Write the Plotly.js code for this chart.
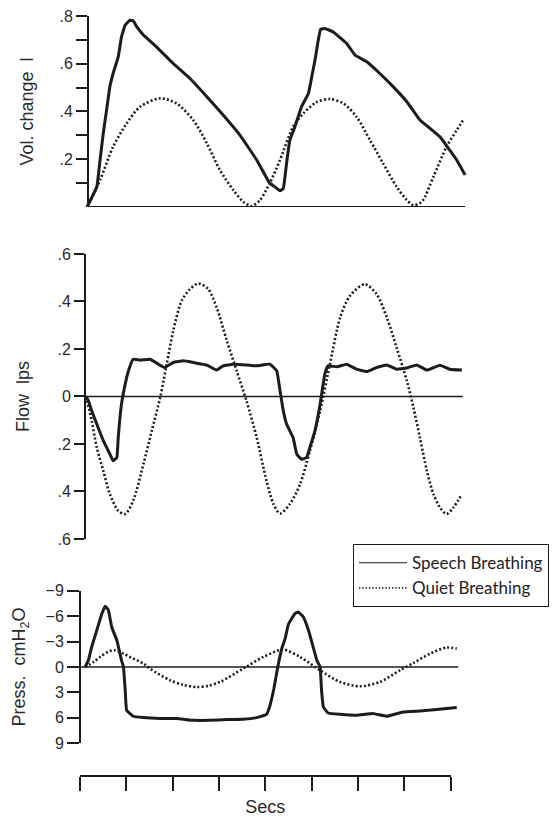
<!DOCTYPE html>
<html>
<head>
<meta charset="utf-8">
<script src="https://cdn.plot.ly/plotly-3.0.1.min.js"></script>
<style>html,body{margin:0;padding:0;background:#fff;}#chart{width:559px;height:817px;}</style>
</head>
<body>
<div id="chart"></div>
<script>
// ---- Panel 1: volume change (litres) ----
const speechVolT = [0.15,0.36,0.43,0.50,0.57,0.64,0.71,0.82,0.89,0.97,1.07,1.14,1.22,1.36,1.64,2.00,2.36,2.72,3.07,3.43,3.79,4.07,4.18,4.29,4.36,4.43,4.50,4.61,4.75,4.90,4.97,5.04,5.11,5.16,5.25,5.43,5.72,5.90,6.15,6.43,6.72,7.01,7.29,7.51,7.72,7.93,8.08,8.26];
const speechVol  = [0,0.085,0.197,0.31,0.406,0.503,0.559,0.629,0.713,0.762,0.782,0.78,0.754,0.72,0.671,0.601,0.538,0.462,0.385,0.301,0.197,0.10,0.085,0.068,0.078,0.183,0.28,0.336,0.42,0.476,0.545,0.615,0.699,0.744,0.748,0.733,0.685,0.636,0.608,0.559,0.503,0.441,0.364,0.329,0.294,0.238,0.197,0.134];
const quietVolT = [0.16,0.43,0.71,1.00,1.29,1.72,2.07,2.43,2.72,3.00,3.29,3.50,3.68,3.86,4.07,4.29,4.57,4.79,5.08,5.36,5.65,5.93,6.22,6.50,6.79,7.01,7.15,7.33,7.58,7.86,8.08,8.24];
const quietVol  = [0,0.113,0.252,0.35,0.42,0.455,0.434,0.364,0.267,0.155,0.071,0.022,0.004,0.029,0.10,0.197,0.336,0.392,0.44,0.452,0.434,0.378,0.28,0.183,0.085,0.029,0.008,0.022,0.127,0.252,0.322,0.371];

// ---- Panel 2: flow (litres per second) ----
const speechFlowT = [0.13,0.18,0.25,0.36,0.50,0.64,0.71,0.79,0.82,0.89,0.97,1.04,1.14,1.29,1.50,1.68,1.82,2.00,2.22,2.43,2.72,2.93,3.07,3.29,3.57,3.79,4.07,4.22,4.29,4.36,4.43,4.57,4.65,4.75,4.86,4.93,5.04,5.15,5.25,5.32,5.51,5.72,5.93,6.15,6.36,6.58,6.79,7.01,7.22,7.44,7.72,7.93,8.19];
const speechFlow  = [0,-0.018,-0.06,-0.116,-0.186,-0.242,-0.271,-0.257,-0.173,-0.032,0.052,0.108,0.157,0.153,0.157,0.136,0.122,0.143,0.150,0.143,0.132,0.111,0.129,0.136,0.133,0.129,0.136,0.108,0.024,-0.06,-0.116,-0.173,-0.243,-0.264,-0.257,-0.215,-0.144,-0.032,0.094,0.129,0.125,0.136,0.115,0.105,0.122,0.133,0.115,0.12,0.133,0.111,0.132,0.115,0.111];
const quietFlowT = [0.13,0.25,0.36,0.50,0.64,0.82,0.97,1.14,1.36,1.54,1.72,1.86,2.00,2.18,2.36,2.54,2.75,2.93,3.15,3.36,3.57,3.79,4.00,4.15,4.29,4.50,4.72,4.93,5.15,5.36,5.58,5.79,6.11,6.36,6.58,6.79,7.01,7.15,7.29,7.44,7.58,7.72,7.86,8.01,8.19];
const quietFlow  = [0,-0.102,-0.215,-0.313,-0.411,-0.481,-0.495,-0.439,-0.285,-0.144,-0.004,0.136,0.277,0.403,0.452,0.476,0.452,0.375,0.235,0.108,-0.018,-0.173,-0.355,-0.453,-0.493,-0.453,-0.369,-0.229,-0.06,0.136,0.333,0.424,0.473,0.431,0.333,0.206,0.066,-0.046,-0.173,-0.313,-0.411,-0.467,-0.495,-0.467,-0.411];

// ---- Panel 3: pressure (cmH2O) ----
const speechPressT = [0.11,0.18,0.25,0.36,0.47,0.54,0.61,0.68,0.79,0.89,0.93,0.97,1.00,1.14,1.36,1.72,2.07,2.43,2.79,3.15,3.50,3.79,4.00,4.07,4.16,4.24,4.33,4.40,4.47,4.61,4.68,4.79,4.90,5.00,5.08,5.15,5.18,5.22,5.32,5.58,5.93,6.29,6.58,6.93,7.29,7.65,8.08];
const speechPress  = [0,-0.79,-2.36,-4.33,-6.30,-7.16,-6.69,-4.72,-3.15,-0.79,-0.08,2.75,5.11,5.81,5.97,6.08,6.08,6.29,6.29,6.20,6.17,5.97,5.58,4.63,2.51,0.04,-2.21,-3.38,-5.04,-6.30,-6.49,-5.90,-4.33,-2.36,-0.79,0,2.75,4.72,5.42,5.58,5.70,5.50,5.81,5.31,5.19,5.02,4.79];
const quietPressT = [0.11,0.29,0.43,0.64,0.75,0.93,1.07,1.36,1.50,1.93,2.21,2.50,2.75,3.00,3.50,3.93,4.36,4.72,5.15,5.58,6.00,6.43,6.86,7.15,7.51,7.86,8.08];
const quietPress  = [0,-0.59,-1.18,-1.89,-1.97,-1.58,-1.18,-0.40,0.19,1.57,2.10,2.36,2.22,1.77,0.19,-1.18,-2.05,-1.18,0.39,1.77,2.28,1.77,0.39,-0.47,-1.58,-2.29,-2.17];

// ---- Tick labels ----
const volTickVals = [0.1,0.2,0.3,0.4,0.5,0.6,0.7,0.8];
const volTickText = ['', '.2', '', '.4', '', '.6', '', '.8'];
const flowTickVals = [-0.6,-0.4,-0.2,0,0.2,0.4,0.6];
const flowTickText = ['.6', '.4', '.2', '0', '.2', '.4', '.6'];
const pressTickVals = [-9,-6,-3,0,3,6,9];
const pressTickText = ['\u22129', '\u22126', '\u22123', '0', '3', '6', '9'];
const secTickVals = [0,1,2,3,4,5,6,7,8];

const INK = '#1c1c1c';
const speechLine = {color: INK, width: 3, shape: 'spline', smoothing: 0.3};
const quietLine = {color: INK, width: 2.6, dash: '2px,2.2px', shape: 'spline', smoothing: 0.8};

const traces = [
  {x: speechVolT, y: speechVol, xaxis: 'x', yaxis: 'y', mode: 'lines', line: speechLine, showlegend: false, hoverinfo: 'skip'},
  {x: quietVolT, y: quietVol, xaxis: 'x', yaxis: 'y', mode: 'lines', line: quietLine, showlegend: false, hoverinfo: 'skip'},
  {x: speechFlowT, y: speechFlow, xaxis: 'x', yaxis: 'y2', mode: 'lines', line: speechLine, showlegend: false, hoverinfo: 'skip'},
  {x: quietFlowT, y: quietFlow, xaxis: 'x', yaxis: 'y2', mode: 'lines', line: quietLine, showlegend: false, hoverinfo: 'skip'},
  {x: speechPressT, y: speechPress, xaxis: 'x', yaxis: 'y3', mode: 'lines', line: speechLine, showlegend: false, hoverinfo: 'skip'},
  {x: quietPressT, y: quietPress, xaxis: 'x', yaxis: 'y3', mode: 'lines', line: quietLine, showlegend: false, hoverinfo: 'skip'},
  // legend entries
  {x: [null], y: [null], xaxis: 'x', yaxis: 'y3', mode: 'lines', name: 'Speech Breathing', line: {color: INK, width: 1.2}, hoverinfo: 'skip'},
  {x: [null], y: [null], xaxis: 'x', yaxis: 'y3', mode: 'lines', name: 'Quiet Breathing', line: {color: INK, width: 1.6, dash: '1.3px,2px'}, hoverinfo: 'skip'},
  // carrier for the seconds axis
  {x: [0, 8], y: [null, null], xaxis: 'x2', yaxis: 'y3', mode: 'lines', showlegend: false, hoverinfo: 'skip'}
];

const tickFont = {family: 'Liberation Sans, Arial, sans-serif', size: 16, color: '#2a2a2a'};
const titleFont = {family: 'Liberation Sans, Arial, sans-serif', size: 18, color: '#2a2a2a'};

function yAx(extra) {
  return Object.assign({
    anchor: 'free', showline: true, linewidth: 2, linecolor: INK,
    ticks: 'outside', tickwidth: 2, tickcolor: INK, tickmode: 'array',
    showgrid: false, zeroline: false, tickfont: tickFont, fixedrange: true,
    automargin: false
  }, extra);
}

const layout = {
  width: 559, height: 817,
  margin: {l: 80, r: 92, t: 10, b: 41},
  paper_bgcolor: '#ffffff', plot_bgcolor: 'rgba(0,0,0,0)',
  showlegend: true,
  legend: {
    x: 0.705, y: 0.3029, xanchor: 'left', yanchor: 'top',
    bordercolor: INK, borderwidth: 1.2, bgcolor: '#ffffff',
    font: {family: 'Lato, sans-serif', size: 17, color: '#222'},
    itemwidth: 48, tracegroupgap: 0
  },
  xaxis: {domain: [0, 1], range: [0, 8.30], visible: false, fixedrange: true},
  xaxis2: {
    domain: [0, 0.958], range: [0, 8], anchor: 'free', position: 0,
    showline: true, linewidth: 2, linecolor: INK,
    ticks: 'outside', ticklen: 14, tickwidth: 2, tickcolor: INK,
    tickmode: 'array', tickvals: secTickVals, showticklabels: false,
    showgrid: false, zeroline: false, fixedrange: true,
    title: {text: 'Secs', font: titleFont, standoff: 11}
  },
  yaxis: yAx({domain: [0.7428, 0.9922], range: [0, 0.8], position: 0.0207,
    ticklen: 11, tickvals: volTickVals, ticktext: volTickText,
    title: {text: 'Vol. change  l', font: titleFont, standoff: 20}}),
  yaxis2: yAx({domain: [0.3094, 0.6815], range: [-0.6, 0.6], position: 0.0129,
    ticklen: 10, tickvals: flowTickVals, ticktext: flowTickText,
    title: {text: 'Flow  lps', font: titleFont, standoff: 22}}),
  yaxis3: yAx({domain: [0.0427, 0.2419], range: [9, -9], position: 0,
    ticklen: 12, tickvals: pressTickVals, ticktext: pressTickText,
    title: {text: 'Press.  cmH<sub>2</sub>O', font: titleFont, standoff: 14}}),
  shapes: [
    {type: 'line', xref: 'x', yref: 'y', x0: 0.17, x1: 8.26, y0: 0, y1: 0, line: {color: INK, width: 2}},
    {type: 'line', xref: 'x', yref: 'y2', x0: 0.11, x1: 8.21, y0: 0, y1: 0, line: {color: INK, width: 1.3}},
    {type: 'line', xref: 'x', yref: 'y3', x0: 0, x1: 8.11, y0: 0, y1: 0, line: {color: INK, width: 1.3}}
  ]
};

Plotly.newPlot('chart', traces, layout, {staticPlot: true, displayModeBar: false});
</script>
</body>
</html>
